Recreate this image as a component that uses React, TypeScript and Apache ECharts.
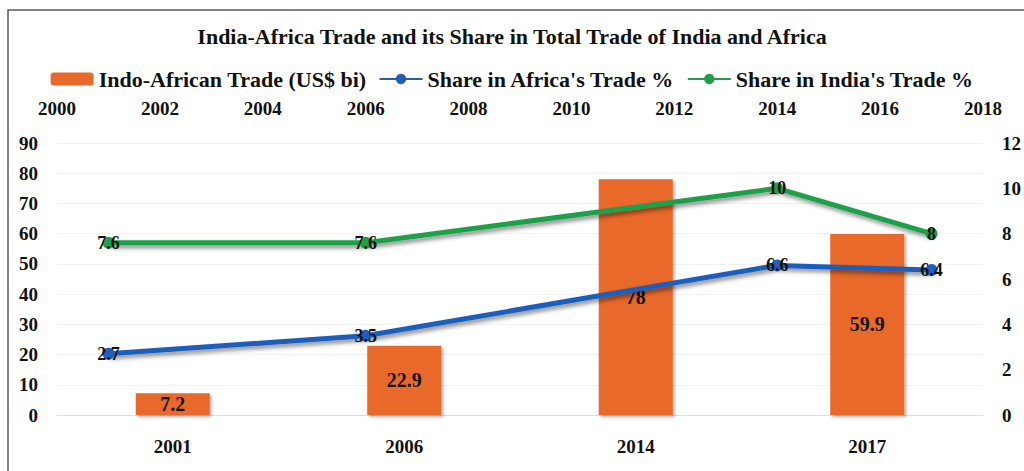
import React, { useEffect, useRef } from "react";
import * as echarts from "echarts";

const categories = ["2001", "2006", "2014", "2017"];
const lineYears = [2001, 2006, 2014, 2017];
const tradeValues = [7.2, 22.9, 78, 59.9];
const africaShare = [2.7, 3.5, 6.6, 6.4];
const indiaShare = [7.6, 7.6, 10, 8];

const FONT = "'Liberation Serif', 'Times New Roman', Times, serif";
const ORANGE = "#E8692A";
const BLUE = "#1F5FBA";
const GREEN = "#1FA048";

export default function App() {
  const ref = useRef<HTMLDivElement>(null);
  useEffect(() => {
    if (!ref.current) return;
    const chart = echarts.init(ref.current, null, { renderer: "svg" });
    const shadow = {
      shadowColor: "rgba(0,0,0,0.45)",
      shadowBlur: 4,
      shadowOffsetX: 2,
      shadowOffsetY: 3,
    };
    const axisLabel = {
      fontFamily: FONT,
      fontWeight: "bold",
      fontSize: 19,
      color: "#111",
    };
    chart.setOption({
      animation: false,
      backgroundColor: "#fff",
      title: {
        text: "India-Africa Trade and its Share in Total Trade of India and Africa",
        left: "center",
        top: 20,
        textStyle: { fontFamily: FONT, fontWeight: "bold", fontSize: 22, color: "#111" },
      },
      legend: {
        top: 63,
        left: "center",
        itemWidth: 43,
        itemHeight: 13,
        itemGap: 12,
        textStyle: { fontFamily: FONT, fontWeight: "bold", fontSize: 22, color: "#111" },
        data: ["Indo-African Trade (US$ bi)", "Share in Africa's Trade %", "Share in India's Trade %"],
      },
      grid: { left: 57, right: 36, top: 143, bottom: 56 },
      xAxis: [
        {
          type: "category",
          data: categories,
          position: "bottom",
          axisLine: { lineStyle: { color: "#e0e0e0" } },
          axisTick: { show: false },
          axisLabel: { ...axisLabel, margin: 22 },
        },
        {
          type: "value",
          position: "top",
          min: 2000,
          max: 2018,
          interval: 2,
          axisLine: { show: false },
          axisTick: { show: false },
          splitLine: { show: false },
          axisLabel: { ...axisLabel, margin: 25, formatter: (v: number) => String(v) },
        },
      ],
      yAxis: [
        {
          type: "value",
          min: 0,
          max: 90,
          interval: 10,
          axisLine: { show: false },
          axisTick: { show: false },
          splitLine: { lineStyle: { color: "#f2f2f2" } },
          axisLabel: { ...axisLabel, margin: 19 },
        },
        {
          type: "value",
          min: 0,
          max: 12,
          interval: 2,
          position: "right",
          axisLine: { show: false },
          axisTick: { show: false },
          splitLine: { show: false },
          axisLabel: { ...axisLabel, margin: 19, align: "left" },
        },
      ],
      graphic: [
        {
          type: "rect",
          shape: { x: 8, y: 10, width: 1040, height: 500 },
          style: { fill: "none", stroke: "#5a5a5a", lineWidth: 1.5 },
          silent: true,
        },
      ],
      series: [
        {
          name: "Indo-African Trade (US$ bi)",
          type: "bar",
          xAxisIndex: 0,
          yAxisIndex: 0,
          barWidth: 74,
          data: tradeValues,
          itemStyle: { color: ORANGE, shadowOffsetX: 2, shadowOffsetY: 2, shadowBlur: 3, shadowColor: "rgba(0,0,0,0.3)" },
          label: {
            show: true,
            position: "inside",
            fontFamily: FONT,
            fontWeight: "bold",
            fontSize: 20,
            color: "#111",
          },
          z: 1,
        },
        {
          name: "Share in Africa's Trade %",
          type: "line",
          xAxisIndex: 1,
          yAxisIndex: 1,
          data: lineYears.map((y, i) => [y, africaShare[i]]),
          symbol: "circle",
          symbolSize: 12,
          itemStyle: { color: BLUE },
          lineStyle: { color: BLUE, width: 5, ...shadow },
          label: {
            show: true,
            position: "inside",
            formatter: (p: any) => String(p.value[1]),
            fontFamily: FONT,
            fontWeight: "bold",
            fontSize: 18,
            color: "#111",
          },
          z: 3,
        },
        {
          name: "Share in India's Trade %",
          type: "line",
          xAxisIndex: 1,
          yAxisIndex: 1,
          data: lineYears.map((y, i) => [y, indiaShare[i]]),
          symbol: "circle",
          symbolSize: 12,
          itemStyle: { color: GREEN },
          lineStyle: { color: GREEN, width: 5, ...shadow },
          label: {
            show: true,
            position: "inside",
            formatter: (p: any) => String(p.value[1]),
            fontFamily: FONT,
            fontWeight: "bold",
            fontSize: 18,
            color: "#111",
          },
          z: 3,
        },
      ],
    });
    return () => chart.dispose();
  }, []);
  return (
    <div
      ref={ref}
      style={{ position: "absolute", left: 0, top: 0, width: 1024, height: 471 }}
    />
  );
}
